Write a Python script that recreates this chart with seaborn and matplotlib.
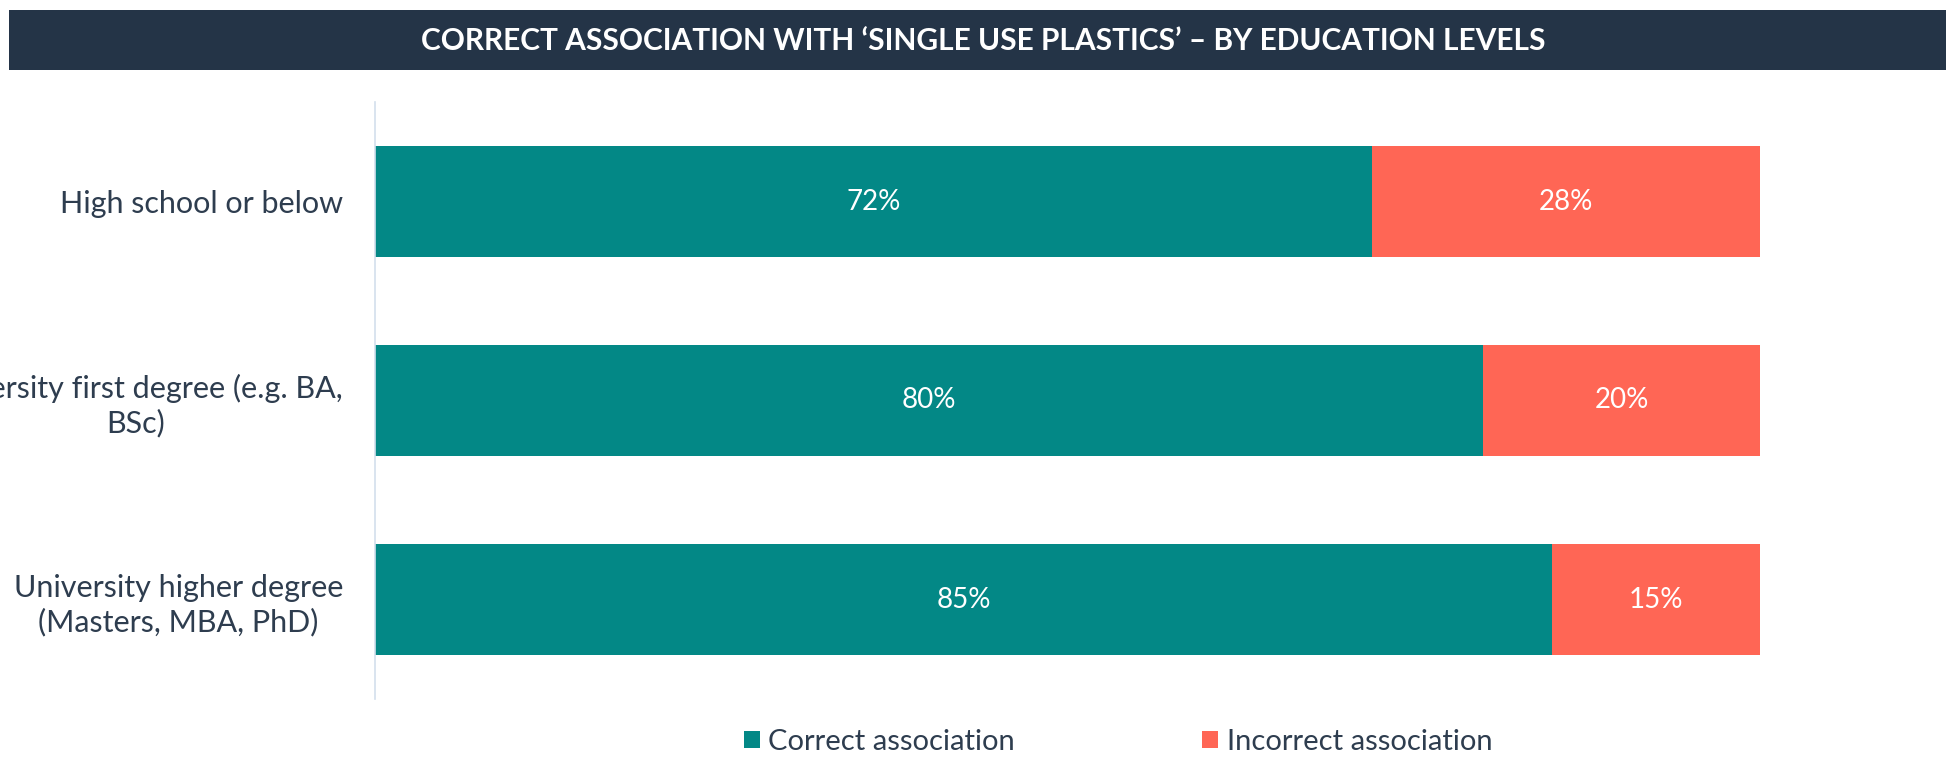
import matplotlib
matplotlib.use("Agg")
import matplotlib.pyplot as plt
from matplotlib.patches import Rectangle
import seaborn as sns
import pandas as pd

# Share of respondents by education level
categories = [
    "High school or below",
    "University first degree (e.g. BA,\nBSc)",
    "University higher degree\n(Masters, MBA, PhD)",
]
correct = [72, 80, 85]
incorrect = [28, 20, 15]
series_names = ["Correct association", "Incorrect association"]
title = "CORRECT ASSOCIATION WITH \u2018SINGLE USE PLASTICS\u2019 \u2013 BY EDUCATION LEVELS"

TEAL = "#038886"
CORAL = "#FF6655"
NAVY = "#243447"
TEXT = "#2E3D4F"

sns.set_theme(style="white")
plt.rcParams["font.family"] = ["Lato", "DejaVu Sans"]

df = pd.DataFrame({"category": categories, "correct": correct, "incorrect": incorrect})
df["total"] = df["correct"] + df["incorrect"]

fig = plt.figure(figsize=(19.46, 7.65), dpi=100)
ax = fig.add_axes([375 / 1946, 1 - 699 / 765, (1760 - 375) / 1946, (699 - 102) / 765])

# Stacked horizontal bars: full-length coral bar, teal share on top
sns.barplot(data=df, y="category", x="total", color=CORAL, orient="h",
            width=0.56, ax=ax, label=series_names[1], saturation=1, linewidth=0)
sns.barplot(data=df, y="category", x="correct", color=TEAL, orient="h",
            width=0.56, ax=ax, label=series_names[0], saturation=1, linewidth=0)
handles, labels = ax.get_legend_handles_labels()
if ax.get_legend() is not None:
    ax.get_legend().remove()

for i, (c, w) in enumerate(zip(correct, incorrect)):
    ax.text(c / 2, i, f"{c}%", ha="center", va="center", color="white",
            fontsize=20, fontweight="normal", zorder=5)
    ax.text(c + w / 2, i, f"{w}%", ha="center", va="center", color="white",
            fontsize=20, fontweight="normal", zorder=5)

ax.set_xlim(0, 100)
ax.set_ylim(2.5, -0.5)
ax.set_xlabel("")
ax.set_ylabel("")
ax.set_xticks([])
ax.tick_params(axis="y", length=0, pad=23)
ax.set_yticks(range(len(categories)))
ax.set_yticklabels(categories, fontsize=22, color=TEXT, multialignment="center",
                   linespacing=1.25)
for side in ["top", "right", "bottom"]:
    ax.spines[side].set_visible(False)
ax.spines["left"].set_color("#D3DFEC")
ax.spines["left"].set_linewidth(1.2)

# Title banner
fig.patches.append(Rectangle((9 / 1946, 1 - 70 / 765), 1 - 9 / 1946, 60 / 765,
                             transform=fig.transFigure, facecolor=NAVY,
                             edgecolor="none", zorder=0))
fig.text(0.5055, 1 - 41 / 765, title, ha="center", va="center", color="white",
         fontsize=21.5, fontweight="bold")

order = [labels.index(n) for n in series_names]
fig.legend([handles[k] for k in order], [labels[k] for k in order],
           loc="center", bbox_to_anchor=(0.5745, 1 - 742 / 765), ncol=2,
           frameon=False, fontsize=21, labelcolor=TEXT, handlelength=0.55,
           handleheight=0.55, handletextpad=0.3, columnspacing=6.4,
           borderaxespad=0)

fig.savefig("out.png", dpi=100, facecolor="white")
